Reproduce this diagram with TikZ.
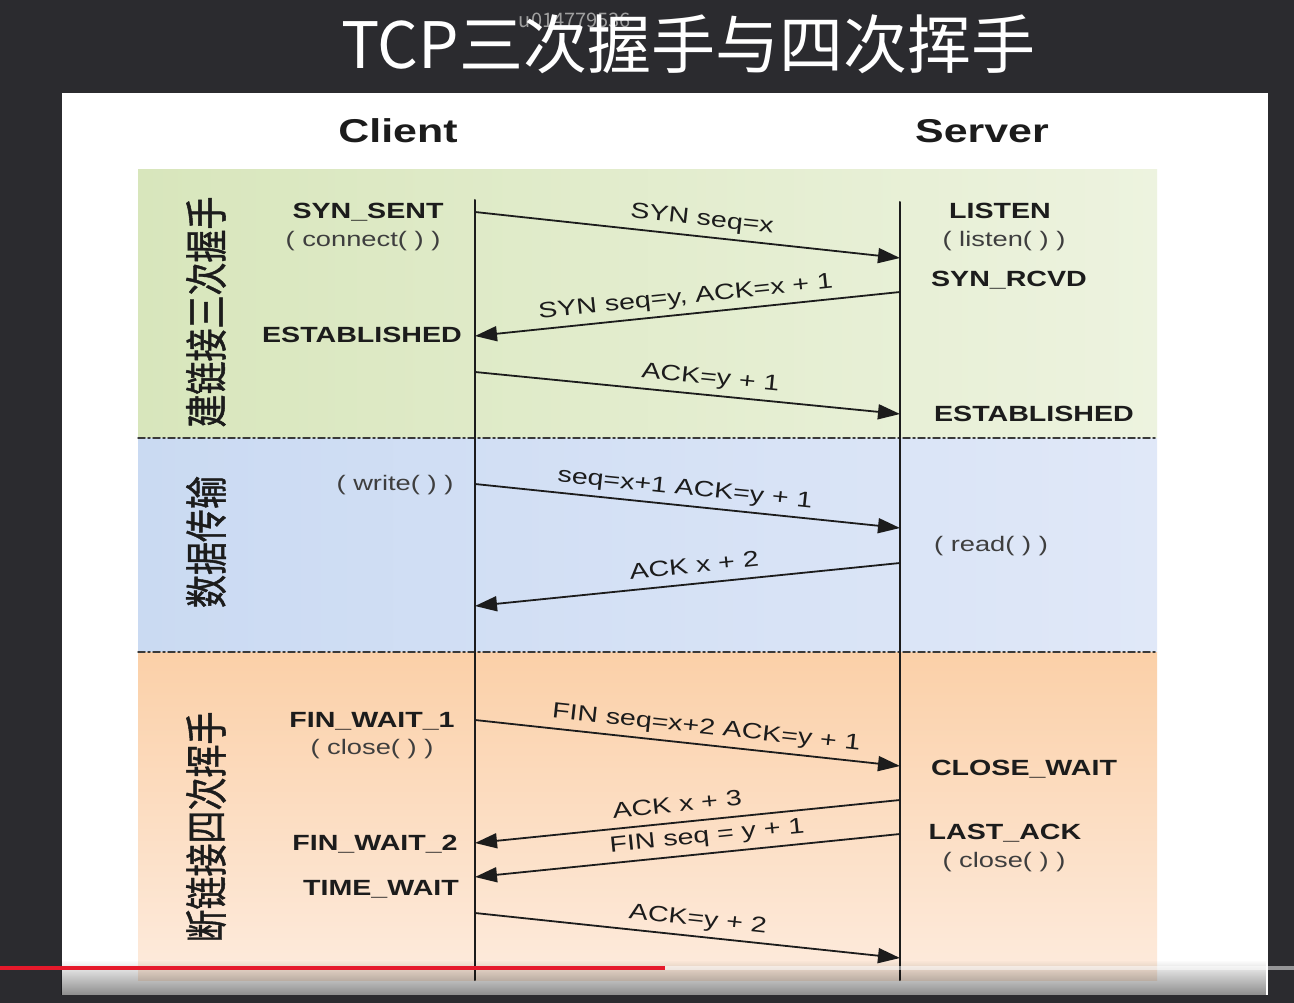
\documentclass[tikz,border=0pt]{standalone}
\usepackage{fontspec}
\setmainfont{Liberation Sans}[FakeStretch=1.3]
\newfontfamily\cjkfont{Noto Sans CJK SC}
\newfontfamily\cjkbold{Noto Sans CJK SC}[FakeBold=1.2]
\usetikzlibrary{arrows.meta,fadings,positioning}

\begin{document}
\begin{tikzpicture}[x=1pt,y=-1pt,line cap=round,line join=round,
  state/.style={font=\bfseries\fontsize{22}{24}\selectfont,text=ink,inner sep=0pt,text height=15.8pt,text depth=0pt},
  call/.style={font=\fontsize{21}{24}\selectfont,text=ink!85,inner sep=0pt,text height=15.1pt,text depth=0pt},
  head/.style={font=\bfseries\fontsize{33}{36}\selectfont,text=ink,inner sep=0pt,text height=23.7pt,text depth=0pt},
  phase/.style={font=\cjkbold\fontsize{33}{36}\selectfont,text=ink,inner sep=0pt,rotate=90,yscale=1.3},
  msg/.style={draw=ink,line width=1.8pt,-{Triangle[length=22pt,width=15pt]}},
  msglbl/.style={font=\fontsize{22}{24}\selectfont,text=ink,sloped,above=10pt,inner sep=0pt,text height=15.8pt,text depth=0pt},
  lifeline/.style={draw=ink,line width=2pt},
  sepline/.style={draw=sepgray,line width=1.5pt,dash pattern=on 7pt off 3pt on 2pt off 3pt}]
\definecolor{bgdark}{HTML}{2B2B2F}
\definecolor{ink}{HTML}{1C1C1C}
\definecolor{sepgray}{HTML}{3A3A3A}
\definecolor{greenL}{HTML}{D8E6BC}
\definecolor{greenR}{HTML}{EDF3DF}
\definecolor{blueL}{HTML}{CADAF2}
\definecolor{blueM}{HTML}{C2D5F1}
\definecolor{blueR}{HTML}{E0E8F8}
\definecolor{orangeT}{HTML}{FBD0A8}
\definecolor{orangeB}{HTML}{FDEBDD}
\definecolor{progred}{HTML}{E5192B}

\useasboundingbox (0,0) rectangle (1294,1003);
% video frame and slide
\fill[bgdark] (0,0) rectangle (1294,1003);
\fill[white] (62,93) rectangle (1268,995);
\node[font=\cjkfont\fontsize{20}{22}\selectfont,text=gray!75] (mark) at (575,20) {u014779536};
\node[font=\cjkfont\fontsize{64}{70}\selectfont,text=white] (title) at (688,44) {TCP三次握手与四次挥手};

% phase bands
\shade[left color=greenL,right color=greenR] (138,170) rectangle (1157,438);
\shade[left color=blueL,middle color=blueM,right color=blueR] (138,438) rectangle (1157,652);
\shade[top color=orangeT,bottom color=orangeB] (138,652) rectangle (1157,980);
\draw[sepline] (138,438) -- (1157,438);
\draw[sepline] (138,652) -- (1157,652);

\node[phase] (open) at (206,312) {建链接三次握手};
\node[phase] (data) at (206,542) {数据传输};
\node[phase] (close) at (206,827) {断链接四次挥手};

% hosts and lifelines
\node[head] (client) at (398,131) {Client};
\node[head] (server) at (982,131) {Server};
\coordinate (ctop) at (475,200);
\coordinate (cbot) at (475,980);
\coordinate (stop) at (900,202);
\coordinate (sbot) at (900,980);
\draw[lifeline] (ctop) -- (cbot);
\draw[lifeline] (stop) -- (sbot);

% client states
\node[state] (synsent) at (368,211) {SYN\_SENT};
\node[call] (connect) at (363,239) {( connect( ) )};
\node[state] (cestab) at (362,335) {ESTABLISHED};
\node[call] (write) at (395,483) {( write( ) )};
\node[state] (finw1) at (372,720) {FIN\_WAIT\_1};
\node[call] (cclose) at (372,747) {( close( ) )};
\node[state] (finw2) at (375,843) {FIN\_WAIT\_2};
\node[state] (timew) at (381,888) {TIME\_WAIT};

% server states
\node[state] (listen) at (1000,211) {LISTEN};
\node[call] (listencall) at (1004,239) {( listen( ) )};
\node[state] (synrcvd) at (1009,279) {SYN\_RCVD};
\node[state] (sestab) at (1034,414) {ESTABLISHED};
\node[call] (read) at (991,544) {( read( ) )};
\node[state] (closew) at (1024,768) {CLOSE\_WAIT};
\node[state] (lastack) at (1005,832) {LAST\_ACK};
\node[call] (sclose) at (1004,860) {( close( ) )};

% message end points
\foreach \n/\yc/\ys in {1/212/258,2/336/292,3/372/414,4/484/528,5/606/563,
                        6/720/766,7/843/800,8/877/834,9/913/958} {
  \coordinate (c\n) at (475,\yc);
  \coordinate (s\n) at (900,\ys);
}

% messages
\draw[msg] (c1) -- node[msglbl,pos=0.53] {SYN seq=x} (s1);
\draw[msg] (s2) -- node[msglbl,pos=0.50] {SYN seq=y, ACK=x + 1} (c2);
\draw[msg] (c3) -- node[msglbl,pos=0.55] {ACK=y + 1} (s3);
\draw[msg] (c4) -- node[msglbl,pos=0.49] {seq=x+1 ACK=y + 1} (s4);
\draw[msg] (s5) -- node[msglbl,pos=0.48] {ACK x + 2} (c5);
\draw[msg] (c6) -- node[msglbl,pos=0.54] {FIN seq=x+2 ACK=y + 1} (s6);
\draw[msg] (s7) -- node[msglbl,pos=0.52] {ACK x + 3} (c7);
\draw[msg] (s8) -- node[msglbl,pos=0.45] {FIN seq = y + 1} (c8);
\draw[msg] (c9) -- node[msglbl,pos=0.52] {ACK=y + 2} (s9);

% player bar
\fill[black,opacity=0.45,path fading=north] (62,960) rectangle (1268,995);
\draw[white,opacity=0.5,line width=4pt,line cap=butt] (665,968) -- (1294,968);
\draw[progred,line width=4pt,line cap=butt] (0,968) -- (665,968);
\end{tikzpicture}
\end{document}
